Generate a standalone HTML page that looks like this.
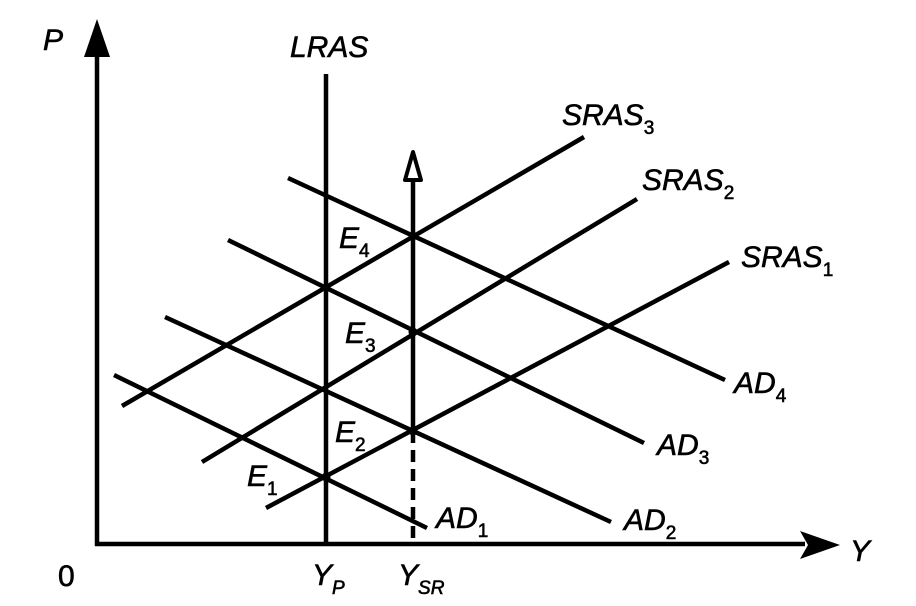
<!DOCTYPE html>
<html><head><style>
body{margin:0;background:#fff;}
svg text{font-family:"Liberation Sans",Arial,sans-serif;font-style:italic;fill:#000;stroke:#000;stroke-width:0.6;}
svg text tspan.s{font-style:normal;}
svg text.up{font-style:normal;}
</style></head><body>
<svg width="916" height="601" viewBox="0 0 916 601" xmlns="http://www.w3.org/2000/svg">
<g stroke="#000" stroke-width="4.5" fill="none" stroke-linecap="butt">
<line x1="97" y1="546" x2="97" y2="50"/>
<line x1="95" y1="544" x2="805" y2="544"/>
<line x1="326" y1="74" x2="326" y2="544"/>
<line x1="413" y1="431" x2="413" y2="178"/>
<line x1="413" y1="431" x2="413" y2="544" stroke-dasharray="12,7"/>
<line x1="266" y1="508" x2="729" y2="262"/>
<line x1="202" y1="462" x2="637" y2="199"/>
<line x1="122" y1="406" x2="584" y2="137"/>
<line x1="114" y1="375" x2="427" y2="528"/>
<line x1="165" y1="317" x2="611" y2="522"/>
<line x1="228" y1="240" x2="644" y2="443"/>
<line x1="288" y1="178" x2="725" y2="380"/>
</g>
<polygon points="97,19 84,57 110,57" fill="#000"/>
<polygon points="840,545 800,531 808,545 800,559" fill="#000"/>
<polygon points="413,152 405,180 421,180" fill="#fff" stroke="#000" stroke-width="4" stroke-linejoin="round"/>
<g fill="#000">
<circle cx="326" cy="477" r="4.5"/><circle cx="413" cy="431" r="4.5"/>
<circle cx="413" cy="332" r="4.5"/><circle cx="413" cy="236" r="4.5"/>
</g>
<g font-size="30">
<text x="43" y="50">P</text>
<text x="290" y="57">LRAS</text>
<text x="850" y="561">Y</text>
<text class="up" x="58" y="586">0</text>
<text x="312" y="585">Y<tspan font-size="19" dy="9">P</tspan></text>
<text x="398" y="585">Y<tspan font-size="19" dy="9">SR</tspan></text>
<text x="562" y="125">SRAS<tspan class="s" font-size="19" dy="9">3</tspan></text>
<text x="642" y="190">SRAS<tspan class="s" font-size="19" dy="9">2</tspan></text>
<text x="741" y="267">SRAS<tspan class="s" font-size="19" dy="9">1</tspan></text>
<text x="734" y="393">AD<tspan class="s" font-size="19" dy="9">4</tspan></text>
<text x="657" y="455">AD<tspan class="s" font-size="19" dy="9">3</tspan></text>
<text x="624" y="530">AD<tspan class="s" font-size="19" dy="9">2</tspan></text>
<text x="436" y="528">AD<tspan class="s" font-size="19" dy="9">1</tspan></text>
<text x="339" y="248">E<tspan class="s" font-size="19" dy="9">4</tspan></text>
<text x="345" y="343">E<tspan class="s" font-size="19" dy="9">3</tspan></text>
<text x="335" y="442">E<tspan class="s" font-size="19" dy="9">2</tspan></text>
<text x="247" y="486">E<tspan class="s" font-size="19" dy="9">1</tspan></text>
</g>
</svg>
</body></html>
